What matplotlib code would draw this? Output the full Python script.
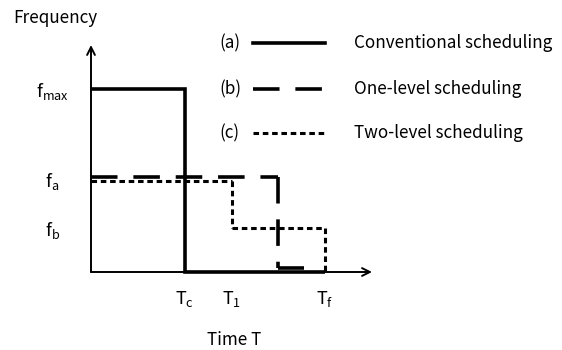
import matplotlib
matplotlib.use("Agg")
import matplotlib.pyplot as plt
from matplotlib.lines import Line2D

plt.rcParams['font.family'] = ['Noto Sans CJK JP', 'DejaVu Sans']
plt.rcParams['mathtext.fontset'] = 'custom'
plt.rcParams['mathtext.rm'] = 'Noto Sans CJK JP'
plt.rcParams['mathtext.it'] = 'Noto Sans CJK JP'
plt.rcParams['lines.scale_dashes'] = False

# --- data (time units, frequency normalised to f_max) ---
conv_t = [0, 2, 2, 5]
conv_f = [1.0, 1.0, 0.0, 0.0]
one_t = [0, 4, 4, 4.55]
one_f = [0.52, 0.52, 0.02, 0.02]
two_t = [0, 3, 3, 5, 5]
two_f = [0.495, 0.495, 0.24, 0.24, 0.0]
ytick_vals = [1.0, 0.51, 0.24]
ytick_labels = [r'$\mathregular{f_{max}}$', r'$\mathregular{f_a}$', r'$\mathregular{f_b}$']
xtick_vals = [2, 3, 5]
xtick_labels = [r'$\mathregular{T_c}$', r'$\mathregular{T_1}$', r'$\mathregular{T_f}$']
legend_tags = ['(a)', '(b)', '(c)']
legend_names = ['Conventional scheduling', 'One-level scheduling', 'Two-level scheduling']

W, H = 562, 350
fig = plt.figure(figsize=(W / 100, H / 100), dpi=100)

def px(x, y):
    return x / W, 1 - y / H

ax = fig.add_axes([91 / W, (H - 272) / H, 281 / W, 227 / H])
ax.set_xlim(0, 6.0)
ax.set_ylim(0, 1.24)
for s in ax.spines.values():
    s.set_visible(False)
ax.patch.set_alpha(0)

ax.annotate('', xy=(1.0, 0), xytext=(0, 0), xycoords='axes fraction',
            arrowprops=dict(arrowstyle='->', lw=1.4, color='black',
                            mutation_scale=14, shrinkA=0, shrinkB=0))
ax.annotate('', xy=(0, 1.0), xytext=(0, 0), xycoords='axes fraction',
            arrowprops=dict(arrowstyle='->', lw=1.4, color='black',
                            mutation_scale=14, shrinkA=0, shrinkB=0))

dash_b = (0, (19.1, 11.4))
dot_c = (0, (4.0, 2.7))
lw = 2.6
ax.plot(conv_t, conv_f, color='black', lw=lw, clip_on=False,
        solid_joinstyle='miter', solid_capstyle='butt')
# each segment drawn separately so the dash pattern restarts at every corner
for i in range(len(one_t) - 1):
    ax.plot(one_t[i:i + 2], one_f[i:i + 2], color='black', lw=lw, clip_on=False,
            linestyle=dash_b, dash_capstyle='butt')
for i in range(len(two_t) - 1):
    ax.plot(two_t[i:i + 2], two_f[i:i + 2], color='black', lw=2.2, clip_on=False,
            linestyle=dot_c, dash_capstyle='butt')

ax.set_yticks(ytick_vals, ytick_labels, fontsize=13)
ax.set_xticks(xtick_vals, xtick_labels, fontsize=13)
ax.tick_params(axis='both', length=0)
ax.tick_params(axis='y', pad=28)
for t in ax.get_yticklabels():
    t.set_horizontalalignment('center')
ax.tick_params(axis='x', pad=12)

fs = 12.3
fig.text(*px(13, 18), 'Frequency', fontsize=fs, ha='left', va='center')
fig.text(*px(234, 340), 'Time T', fontsize=fs, ha='center', va='center')

leg_y = [43, 89, 133]
leg_styles = [dict(ls='-', lw=2.6),
              dict(ls=dash_b, lw=2.6),
              dict(ls=dot_c, lw=2.2)]
for tag, name, y, st in zip(legend_tags, legend_names, leg_y, leg_styles):
    fig.text(*px(219, y), tag, fontsize=fs, ha='left', va='center')
    fig.text(*px(354, y), name, fontsize=fs, ha='left', va='center')
    x0, y0 = px(253, y)
    x1, _ = px(325, y)
    fig.add_artist(Line2D([x0, x1], [y0, y0], color='black',
                          linestyle=st['ls'], lw=st['lw'], dash_capstyle='butt'))

fig.savefig('out.png', dpi=100)
